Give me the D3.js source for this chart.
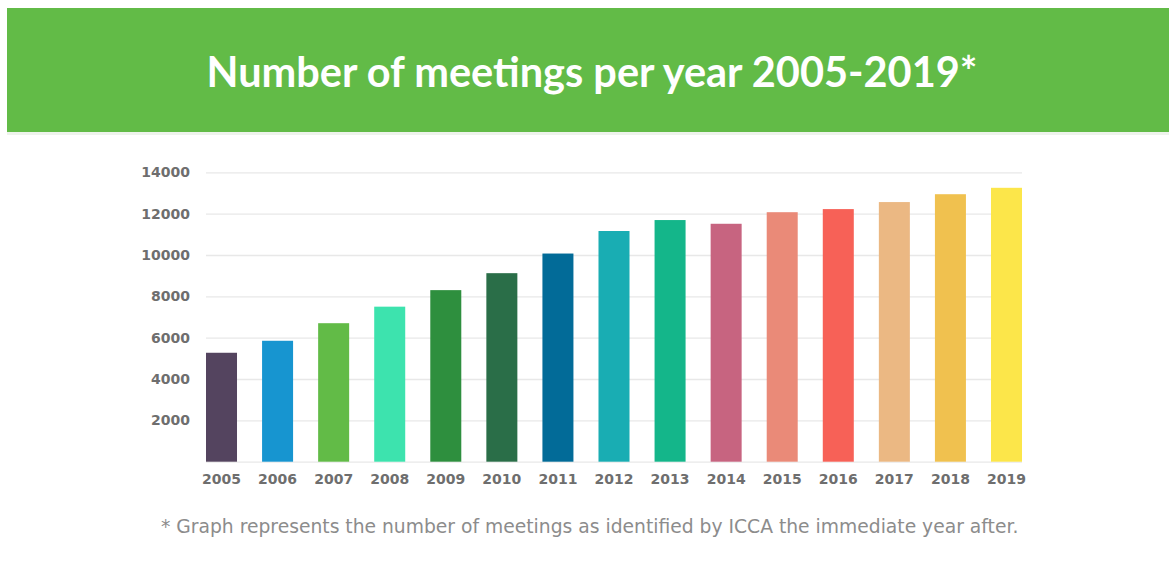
<!DOCTYPE html>
<html>
<head>
<meta charset="utf-8">
<script src="https://cdn.jsdelivr.net/npm/d3@7"></script>
<style>
  body { margin: 0; background: #fff; }
  svg { display: block; }
</style>
</head>
<body>
<div id="chart"></div>
<script>
var years = ["2005", "2006", "2007", "2008", "2009", "2010", "2011", "2012",
             "2013", "2014", "2015", "2016", "2017", "2018", "2019"];
var meetings = [5270, 5850, 6700, 7500, 8300, 9120, 10070, 11160,
                11690, 11510, 12070, 12220, 12560, 12940, 13250];
var barColors = ["#54445f", "#1795d0", "#62bb47", "#3de3ae", "#2e8f3e", "#2a6e48", "#026b98", "#19adb3",
                 "#14b68a", "#c76480", "#ea8a78", "#f76157", "#ebb883", "#f0c14f", "#fce64a"];
var yTicks = [2000, 4000, 6000, 8000, 10000, 12000, 14000];
var titleText = "Number of meetings per year 2005-2019*";
var noteText = "* Graph represents the number of meetings as identified by ICCA the immediate year after.";

var width = 1169, height = 585;

var svg = d3.select("#chart").append("svg")
    .attr("width", width)
    .attr("height", height);

// green banner
svg.append("rect")
    .attr("x", 7).attr("y", 8)
    .attr("width", width - 7).attr("height", 124)
    .attr("fill", "#62bb47");
svg.append("rect")
    .attr("x", 7).attr("y", 132)
    .attr("width", width - 7).attr("height", 3)
    .attr("fill", "#eef3ec");

var title = svg.append("text")
    .attr("x", 592).attr("y", 87)
    .attr("text-anchor", "middle")
    .attr("fill", "#fff")
    .style("font-family", "Lato, sans-serif")
    .style("font-weight", 700)
    .style("font-size", "36px")
    .text(titleText);
// fit to the width seen in the picture
var tw = title.node().getComputedTextLength();
title.style("font-size", (36 * 771 / tw) + "px");

var x = d3.scaleBand()
    .domain(years)
    .range([206, 1022])
    .paddingInner(0.447)
    .paddingOuter(0);

var y = d3.scaleLinear()
    .domain([0, 14000])
    .range([461.7, 172.3]);

// gridlines
svg.append("g")
    .attr("class", "grid")
    .attr("transform", "translate(206,0)")
    .call(d3.axisLeft(y).tickValues([0].concat(yTicks)).tickSize(-816).tickFormat(""))
    .call(function(g) { g.select(".domain").remove(); })
    .selectAll("line")
    .attr("stroke", "#e8e8e8")
    .attr("stroke-width", 1.3);

// y labels
var yAxis = svg.append("g")
    .attr("transform", "translate(190,0)")
    .call(d3.axisLeft(y).tickValues(yTicks).tickSize(0).tickPadding(0).tickFormat(d3.format("d")));
yAxis.select(".domain").remove();
yAxis.selectAll("text")
    .attr("fill", "#6e6e6e")
    .style("font-family", "'DejaVu Sans', sans-serif")
    .style("font-weight", "bold")
    .style("font-size", "14px");

// bars
svg.append("g")
    .selectAll("rect")
    .data(years)
    .enter().append("rect")
    .attr("x", function(d) { return x(d); })
    .attr("y", function(d, i) { return y(meetings[i]); })
    .attr("width", x.bandwidth())
    .attr("height", function(d, i) { return y(0) - y(meetings[i]); })
    .attr("fill", function(d, i) { return barColors[i]; });

// x labels
var xAxis = svg.append("g")
    .attr("transform", "translate(0,474)")
    .call(d3.axisBottom(x).tickSize(0).tickPadding(0));
xAxis.select(".domain").remove();
xAxis.selectAll("text")
    .attr("fill", "#6e6e6e")
    .style("font-family", "'DejaVu Sans', sans-serif")
    .style("font-weight", "bold")
    .style("font-size", "14px");

// footnote
var note = svg.append("text")
    .attr("x", 161).attr("y", 533)
    .attr("fill", "#8c8c8c")
    .style("font-family", "'DejaVu Sans', sans-serif")
    .style("font-size", "15px")
    .text(noteText);
var nw = note.node().getComputedTextLength();
note.style("font-size", (15 * 858 / nw) + "px");
</script>
</body>
</html>
